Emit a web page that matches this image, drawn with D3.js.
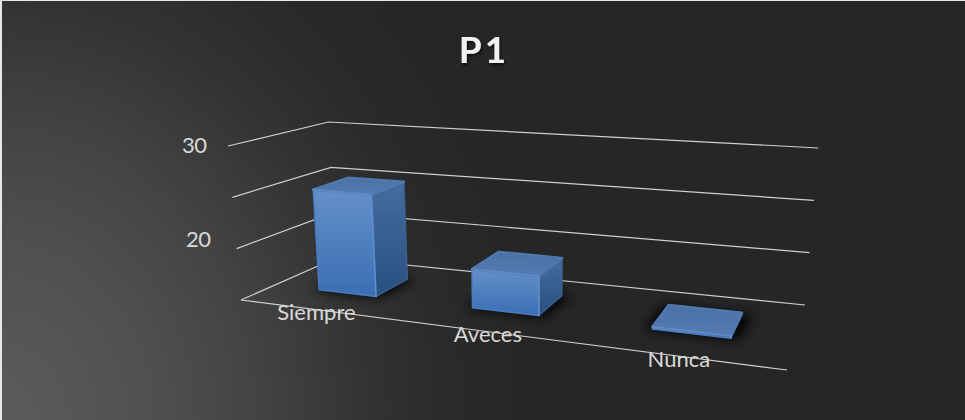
<!DOCTYPE html>
<html><head><meta charset="utf-8">
<script src="https://cdn.jsdelivr.net/npm/d3@7/dist/d3.min.js"></script>
<style>html,body{margin:0;padding:0;background:#e8e8e8;overflow:hidden}svg{display:block}</style>
</head><body><svg id="c" width="965" height="420"></svg>
<script>
const chartTitle = "P1";
const categories = ["Siempre", "Aveces", "Nunca"];
const values = [25, 18.7, 15.2];
const gridLevels = [15, 20, 25, 30];
const tickLabels = [20, 30];

const svg = d3.select("#c");
const defs = svg.append("defs");

const bg = defs.append("radialGradient").attr("id","bg").attr("gradientUnits","userSpaceOnUse")
  .attr("cx",0).attr("cy",0).attr("r",600)
  .attr("gradientTransform","translate(0,420) scale(1,1.15)");
[[0,"#5c5c5c"],[0.25,"#505050"],[0.42,"#444444"],[0.61,"#333333"],[0.75,"#2a2a2a"],[0.9,"#262626"],[1,"#262626"]]
  .forEach(([o,c])=>bg.append("stop").attr("offset",o).attr("stop-color",c));
svg.append("rect").attr("x",2).attr("y",1).attr("width",963).attr("height",419).attr("fill","url(#bg)");

function homography(p00,p10,p11,p01){
  const [x0,y0]=p00,[x1,y1]=p10,[x2,y2]=p11,[x3,y3]=p01;
  const dx1=x1-x2,dx2=x3-x2,sx=x0-x1+x2-x3,dy1=y1-y2,dy2=y3-y2,sy=y0-y1+y2-y3;
  const den=dx1*dy2-dx2*dy1;
  const g=(sx*dy2-dx2*sy)/den,h=(dx1*sy-sx*dy1)/den;
  const a=x1-x0+g*x1,b=x3-x0+h*x3,d=y1-y0+g*y1,e=y3-y0+h*y3;
  return (u,v)=>{const w=g*u+h*v+1;return [(a*u+b*v+x0)/w,(d*u+e*v+y0)/w];};
}
const floorP = homography([241,300],[787,370],[805,305],[336,258]);
const level = d3.scaleLinear().domain([15,30]).range([0,1]);
const vanish = [523,3640];
function wallHeight(u,v){
  const front=154+(174-154)*u, back=136+(157-136)*u;
  return front+(back-front)*v;
}
function P(u,v,val){
  const f=floorP(u,v), h=wallHeight(u,v)*level(val);
  return [f[0]+(f[0]-vanish[0])/(vanish[1]-f[1])*h, f[1]-h];
}
const x = d3.scaleBand().domain(categories).range([0.0045,1.0025]).paddingInner(0.612).paddingOuter(0.3);
const depth = d3.scaleLinear().domain([0,1]).range([0.33,0.71]);
const line = d3.line();

const gridG = svg.append("g").attr("fill","none").attr("stroke","#cfcfcf").attr("stroke-width",1.2);
gridG.selectAll("path").data(gridLevels).join("path")
  .attr("d",l=>line([P(0,0,l),P(0,1,l),P(1,1,l)]));
gridG.append("path").attr("d",line([P(0,0,15),P(1,0,15)]));

const tickY = d3.scaleLinear().domain([20,30]).range([239,145]);
const tickX = d3.scaleLinear().domain([20,30]).range([210.5,206.5]);
svg.selectAll("text.t").data(tickLabels).join("text").attr("class","t")
  .attr("x",d=>tickX(d)).attr("y",d=>tickY(d)).attr("dy","0.35em")
  .attr("text-anchor","end").attr("fill","#d9d9d9")
  .style("font","22px Lato").style("letter-spacing","-0.5px").text(d=>d);

const blur=defs.append("filter").attr("id","sh").attr("x","-30%").attr("y","-50%").attr("width","160%").attr("height","200%");
blur.append("feGaussianBlur").attr("stdDeviation",6);
const soft=defs.append("filter").attr("id","title").attr("x","-30%").attr("y","-30%").attr("width","160%").attr("height","160%");
soft.append("feDropShadow").attr("dx",1).attr("dy",2).attr("stdDeviation",1.5).attr("flood-color","#000").attr("flood-opacity",0.7);
const edge=defs.append("filter").attr("id","edge").attr("x","-5%").attr("y","-5%").attr("width","110%").attr("height","110%");
edge.append("feGaussianBlur").attr("stdDeviation",0.6);

function grad(id,a,b){
  const g=defs.append("linearGradient").attr("id",id).attr("x1",0).attr("y1",0).attr("x2",0).attr("y2",1);
  g.append("stop").attr("offset",0).attr("stop-color",a);
  g.append("stop").attr("offset",1).attr("stop-color",b);
}
grad("front","#6490c8","#3a6eb4");
grad("side","#466c9f","#28507f");
grad("top","#4b70a4","#557cb2");

const bars = categories.map((c,i)=>({c,v:values[i],u0:x(c),u1:x(c)+x.bandwidth(),v0:depth(0),v1:depth(1)}));

svg.append("g").selectAll("path").data(bars).join("path")
  .attr("filter","url(#sh)").attr("fill","#000").attr("fill-opacity",0.95)
  .attr("d",b=>line([P(b.u0-0.012,b.v0-0.02,15),P(b.u1+0.012,b.v0-0.02,15),P(b.u1+0.02,b.v1+0.02,15),P(b.u0-0.012,b.v1+0.02,15)])+"Z");

const barG = svg.append("g").selectAll("g").data(bars).join("g").attr("filter","url(#edge)");
barG.append("path").attr("fill","url(#side)").attr("stroke","#3b5f90").attr("stroke-width",1.5).attr("stroke-linejoin","round")
  .attr("d",b=>line([P(b.u1,b.v0,15),P(b.u1,b.v1,15),P(b.u1,b.v1,b.v),P(b.u1,b.v0,b.v)])+"Z");
barG.append("path").attr("fill","url(#front)").attr("stroke","#4a7cc0").attr("stroke-width",1.5).attr("stroke-linejoin","round")
  .attr("d",b=>line([P(b.u0,b.v0,15),P(b.u1,b.v0,15),P(b.u1,b.v0,b.v),P(b.u0,b.v0,b.v)])+"Z");
barG.append("path").attr("fill","url(#top)").attr("stroke","#5078ae").attr("stroke-width",2.5).attr("stroke-linejoin","round")
  .attr("d",b=>line([P(b.u0,b.v0,b.v),P(b.u1,b.v0,b.v),P(b.u1,b.v1,b.v),P(b.u0,b.v1,b.v)])+"Z");
barG.append("path").attr("fill","none").attr("stroke","#6d9ad8").attr("stroke-opacity",0.55).attr("stroke-width",1.8).attr("stroke-linecap","round")
  .attr("d",b=>line([P(b.u0,b.v0,b.v),P(b.u1,b.v0,b.v),P(b.u1,b.v0,15)]));

const labelU = d3.scaleOrdinal().domain(categories).range([0.172,0.517,0.84]);
svg.selectAll("text.c").data(categories).join("text").attr("class","c")
  .attr("x",c=>P(labelU(c),0,15)[0]).attr("y",c=>P(labelU(c),0,15)[1]+3).attr("dy","0.35em")
  .attr("text-anchor","middle").attr("fill","#d9d9d9")
  .style("font","22px Lato").text(c=>c);

svg.append("text").attr("x",484).attr("y",63).attr("text-anchor","middle")
  .attr("fill","#f2f2f2").attr("filter","url(#title)")
  .style("font","bold 37px Lato").style("letter-spacing","3px").text(chartTitle);
</script></body></html>
